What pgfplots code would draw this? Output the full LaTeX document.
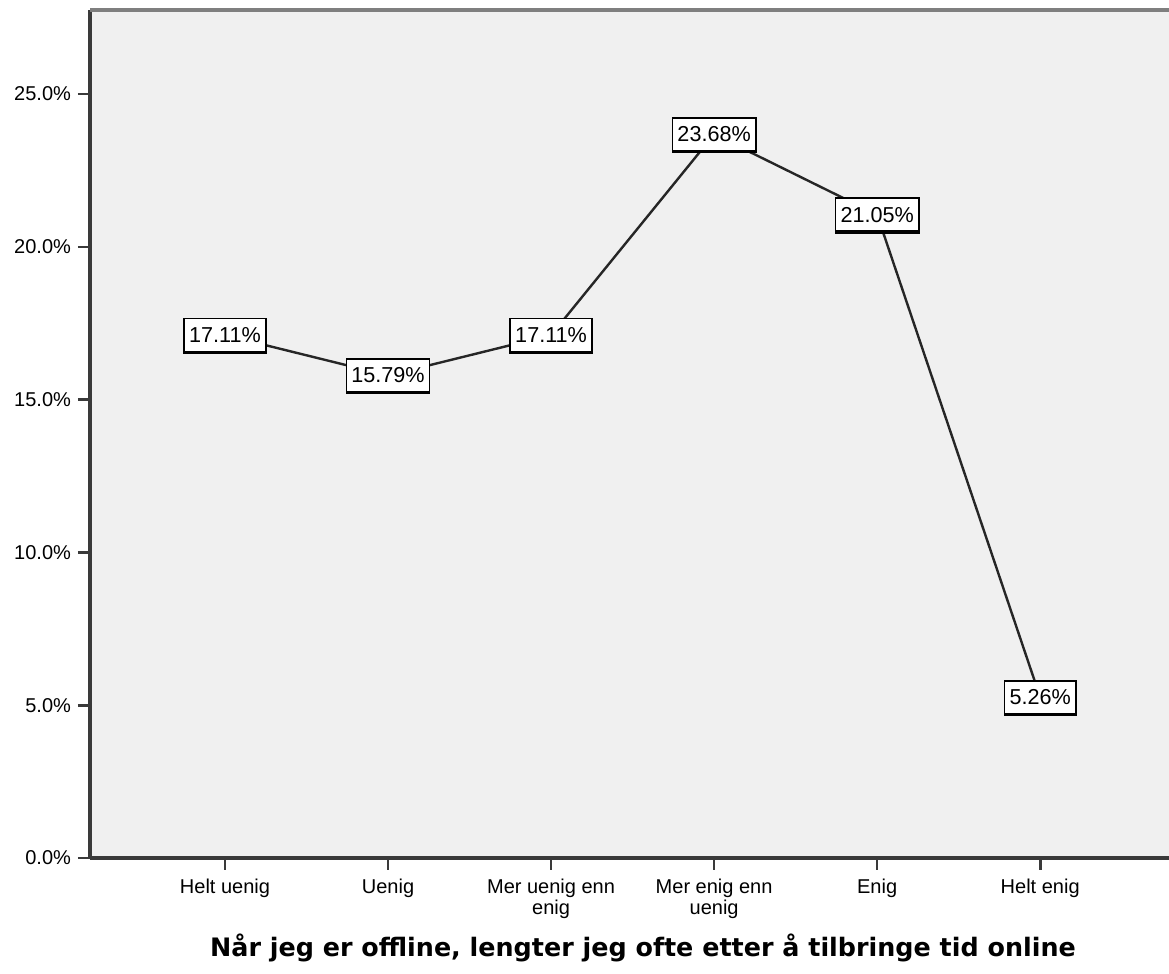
\documentclass[border=0pt]{standalone}
\usepackage{pgfplots}
\pgfplotsset{compat=1.18}
\usetikzlibrary{shadows}
\usepackage{fontspec}
\setmainfont{Liberation Sans}
\newfontfamily\titlefont{DejaVu Sans}
\definecolor{bgc}{HTML}{F0F0F0}
\definecolor{framec}{HTML}{3A3A3A}
\begin{document}
\begin{tikzpicture}
\begin{axis}[
  scale only axis,
  width=539.5pt, height=424pt,
  xmin=-0.828, xmax=5.79,
  ymin=0, ymax=27.75,
  axis lines*=left,
  axis line style={framec, line width=1.6pt},
  axis background/.style={fill=bgc},
  xtick={0,1,2,3,4,5},
  xticklabels={Helt uenig,Uenig,{Mer uenig enn\\enig},{Mer enig enn\\uenig},Enig,Helt enig},
  xticklabel style={align=center, font=\fontsize{10}{8.5}\selectfont, anchor=north, yshift=-1pt},
  ytick={0,5,10,15,20,25},
  yticklabel={\pgfmathprintnumber[fixed,fixed zerofill,precision=1]{\tick}\%},
  yticklabel style={font=\fontsize{10}{12}\selectfont},
  /pgf/number format/assume math mode=true,
  tick align=outside,
  major tick length=6pt,
  tick style={framec, line width=1.3pt},
  xlabel={\titlefont\bfseries\fontsize{12.7}{14}\selectfont Når jeg er offline, lengter jeg ofte etter å tilbringe tid online},
  every axis x label/.style={at={(rel axis cs:0.5125,0)}, anchor=center, yshift=-45pt},
  clip=false,
]
\addplot[black!85, line width=1.2pt, mark=none,
  nodes near coords={\pgfmathprintnumber[fixed,fixed zerofill,precision=2]{\pgfplotspointmeta}\%},
  point meta=y,
  every node near coord/.style={anchor=center, draw=black, line width=0.8pt, fill=white,
     drop shadow={shadow xshift=0pt, shadow yshift=-0.8pt, fill=gray!70, opacity=1},
     inner xsep=2.5pt, inner ysep=0pt, minimum height=16.5pt, font=\fontsize{10.8}{12}\selectfont, text=black},
] coordinates {
  (0,17.11) (1,15.79) (2,17.11) (3,23.68) (4,21.05) (5,5.26)
};
\draw[framec!65, line width=1.6pt] (rel axis cs:0,1) -- (rel axis cs:1,1);
\coordinate (sw) at (rel axis cs:0,0);
\coordinate (ne) at (rel axis cs:1,1);
\end{axis}
\pgfresetboundingbox
\path[use as bounding box] ([xshift=-45pt,yshift=-58pt]sw) rectangle ([yshift=5pt]ne);
\end{tikzpicture}
\end{document}
